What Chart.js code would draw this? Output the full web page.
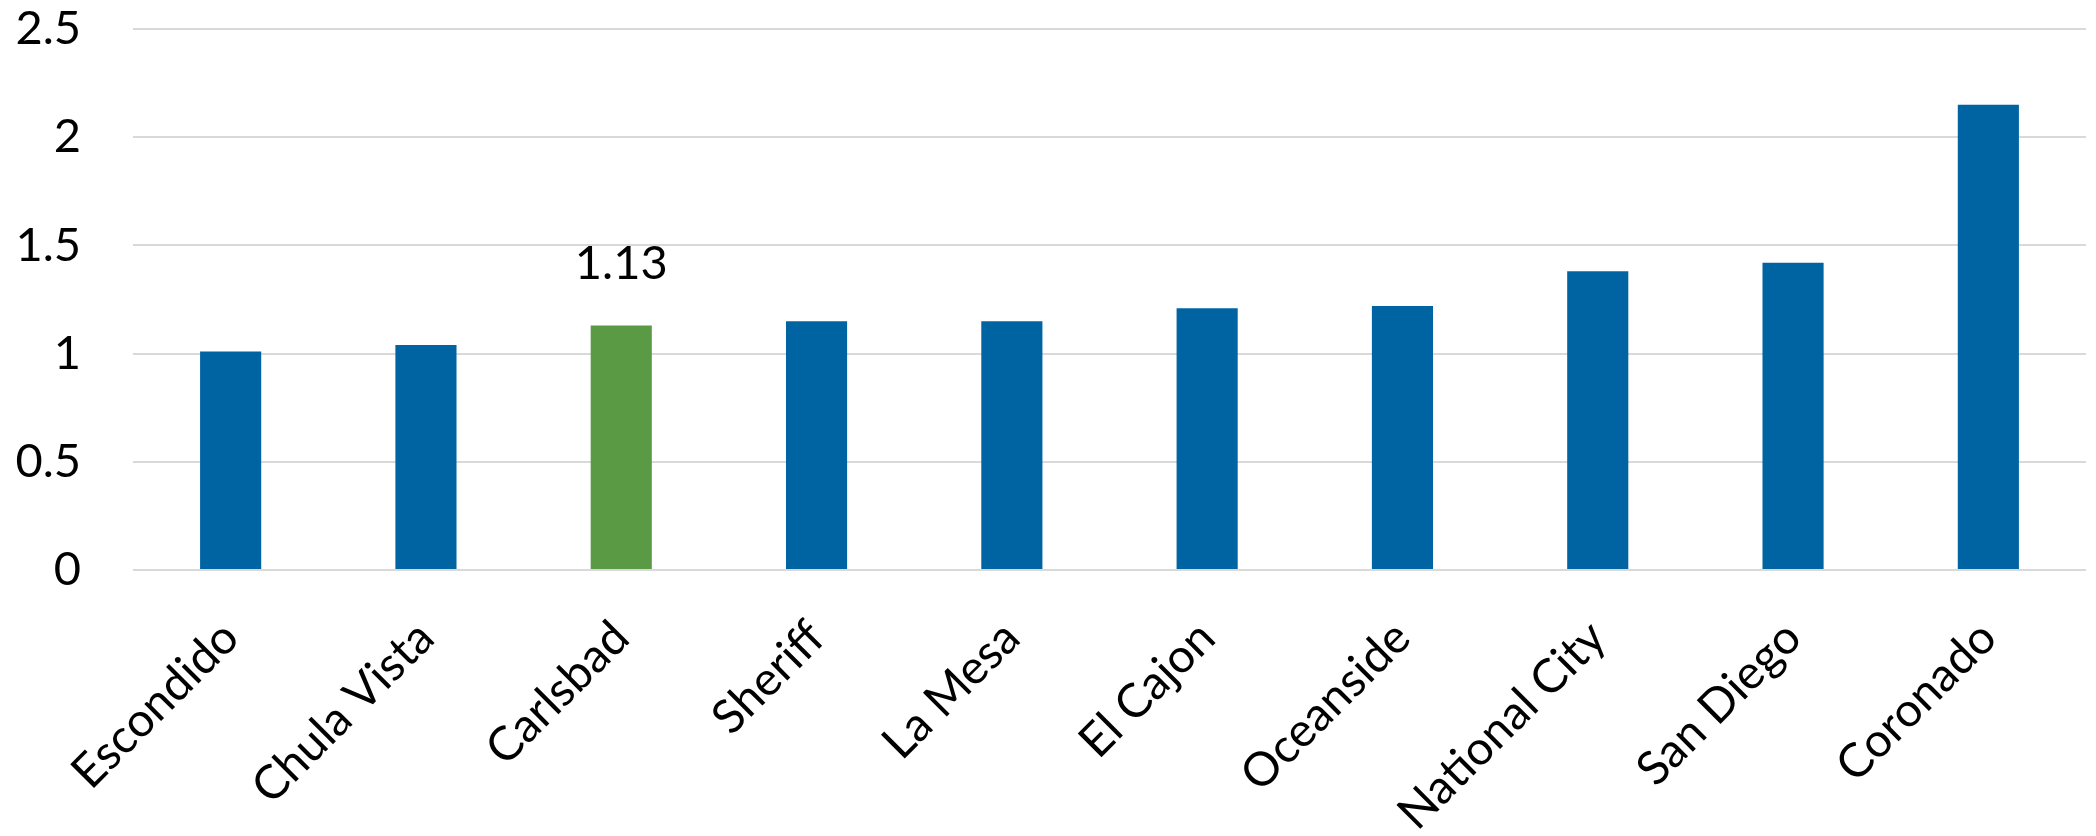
<!DOCTYPE html>
<html>
<head>
<meta charset="utf-8">
<script src="https://cdn.jsdelivr.net/npm/chart.js@4"></script>
<style>
    html, body { margin: 0; padding: 0; background: #fff; }
    .chart-container { position: relative; width: 2096px; height: 836px; }
</style>
</head>
<body>
<div class="chart-container"><canvas id="agencyChart"></canvas></div>
<script>
// Chart data
const agencies = ['Escondido', 'Chula Vista', 'Carlsbad', 'Sheriff', 'La Mesa', 'El Cajon', 'Oceanside', 'National City', 'San Diego', 'Coronado'];
const ratios = [1.01, 1.04, 1.13, 1.15, 1.15, 1.21, 1.22, 1.38, 1.42, 2.15];
const yTicks = [0, 0.5, 1, 1.5, 2, 2.5];
const highlighted = 'Carlsbad';

const BLUE = '#0064a2';
const GREEN = '#5b9a45';
const FONT = 'Lato';

// Draws the value above the highlighted bar only
const highlightLabel = {
    id: 'highlightLabel',
    afterDatasetsDraw(chart) {
        const ctx = chart.ctx;
        const meta = chart.getDatasetMeta(0);
        const idx = agencies.indexOf(highlighted);
        const bar = meta.data[idx];
        ctx.save();
        ctx.font = `47px ${FONT}`;
        ctx.fillStyle = '#000';
        ctx.textAlign = 'center';
        ctx.textBaseline = 'middle';
        ctx.fillText(ratios[idx].toFixed(2), bar.x, bar.y - 62);
        ctx.restore();
    }
};

document.addEventListener('DOMContentLoaded', () => {
    const ctx = document.getElementById('agencyChart').getContext('2d');
    new Chart(ctx, {
        type: 'bar',
        data: {
            labels: agencies,
            datasets: [{
                data: ratios,
                backgroundColor: agencies.map(a => a === highlighted ? GREEN : BLUE),
                borderWidth: 0,
                barPercentage: 0.313,
                categoryPercentage: 1.0
            }]
        },
        options: {
            responsive: true,
            maintainAspectRatio: false,
            animation: false,
            layout: {
                padding: { top: 29, right: 10, bottom: 0, left: 0 }
            },
            plugins: {
                legend: { display: false },
                tooltip: { enabled: false }
            },
            scales: {
                y: {
                    min: 0,
                    max: 2.5,
                    afterBuildTicks: scale => {
                        scale.ticks = yTicks.map(v => ({ value: v }));
                    },
                    afterFit: scale => {
                        scale.width = 133;
                        // tick padding should not push the plot area down
                        scale.paddingTop = 28;
                        scale.paddingBottom = 28;
                    },
                    border: { display: false },
                    grid: {
                        color: '#d9d9d9',
                        lineWidth: 2,
                        drawTicks: false
                    },
                    ticks: {
                        padding: 52,
                        color: '#000',
                        font: { family: FONT, size: 47 },
                        callback: v => String(v)
                    }
                },
                x: {
                    afterFit: scale => { scale.height = 266; },
                    border: { display: false },
                    grid: { display: false, drawTicks: false },
                    ticks: {
                        padding: 40,
                        color: '#000',
                        minRotation: 45,
                        maxRotation: 45,
                        autoSkip: false,
                        font: { family: FONT, size: 47 }
                    }
                }
            }
        },
        plugins: [highlightLabel]
    });
});
</script>
</body>
</html>
